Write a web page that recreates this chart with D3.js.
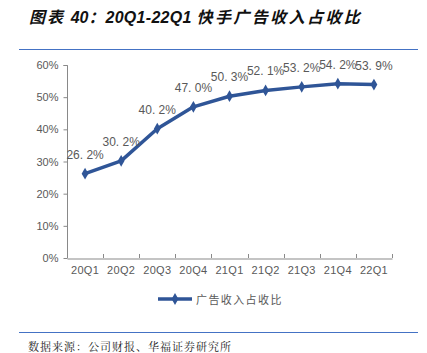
<!DOCTYPE html>
<html>
<head>
<meta charset="utf-8">
<script src="https://cdn.jsdelivr.net/npm/d3@7"></script>
<style>
  body { margin: 0; background: #fff; }
</style>
</head>
<body>
<div id="chart"></div>
<script>
// data
const quarters = ["20Q1","20Q2","20Q3","20Q4","21Q1","21Q2","21Q3","21Q4","22Q1"];
const adShare = [26.2, 30.2, 40.2, 47.0, 50.3, 52.1, 53.2, 54.2, 53.9];
const yTicks = [0, 10, 20, 30, 40, 50, 60];
const seriesName = "广告收入占收比";

const W = 427, H = 353;
const lineCol = "#2F5597", axisCol = "#898989", txtCol = "#595959";
const latin = "'Liberation Sans', Arial, sans-serif";
const cjk = "'Noto Sans CJK SC', sans-serif";

const svg = d3.select("#chart").append("svg")
  .attr("width", W).attr("height", H);

// title (CJK parts spaced out, latin parts tight)
const title = svg.append("text")
  .attr("x", 29).attr("y", 23)
  .style("font-size", "16px").style("font-weight", "bold").style("font-style", "italic")
  .attr("fill", "#111");
[["图表 ", cjk, 2], ["40", latin, 0], ["：", cjk, 1], ["20Q1-22Q1 ", latin, 0.3], ["快手广告收入占收比", cjk, 2.4]]
  .forEach(([t, f, ls]) => {
    title.append("tspan").style("font-family", f).style("letter-spacing", ls + "px").text(t);
  });

svg.append("line").attr("x1", 19).attr("x2", 418).attr("y1", 49.5).attr("y2", 49.5)
  .attr("stroke", "#4472C4").attr("stroke-width", 1);
svg.append("line").attr("x1", 19).attr("x2", 418).attr("y1", 332.5).attr("y2", 332.5)
  .attr("stroke", "#4472C4").attr("stroke-width", 1);

// scales
const x = d3.scaleBand().domain(quarters).range([67, 392]);
const y = d3.scaleLinear().domain([0, 60]).range([258, 65]);

// y axis
const yAx = svg.append("g").attr("transform", "translate(67.5,0)")
  .call(d3.axisLeft(y).tickValues(yTicks).tickSize(4).tickFormat(d => d + "%"));
yAx.select(".domain").attr("stroke", axisCol).attr("d", "M-4,65.5H0V258");
yAx.selectAll(".tick line").attr("stroke", axisCol);
yAx.selectAll(".tick text").attr("fill", txtCol).attr("x", -9)
  .style("font-size", "11px").style("font-family", latin);

// x axis
const xAx = svg.append("g").attr("transform", "translate(0,258.5)")
  .call(d3.axisBottom(x).tickSize(0).tickPadding(8));
xAx.select(".domain").attr("stroke", axisCol);
xAx.selectAll(".tick text").attr("fill", txtCol)
  .style("font-size", "11px").style("font-family", latin).style("letter-spacing", "0.3px");
// tick marks at band boundaries
svg.append("g").selectAll("line")
  .data(quarters)
  .enter().append("line")
  .attr("x1", d => Math.round(x(d) + x.bandwidth()) + 0.5)
  .attr("x2", d => Math.round(x(d) + x.bandwidth()) + 0.5)
  .attr("y1", 254).attr("y2", 258)
  .attr("stroke", axisCol);

// line
const cx = d => x(d) + x.bandwidth() / 2;
const line = d3.line().x((d, i) => cx(quarters[i])).y(d => y(d));
svg.append("path").datum(adShare)
  .attr("d", line)
  .attr("fill", "none").attr("stroke", lineCol).attr("stroke-width", 3.5)
  .attr("stroke-linejoin", "round");

const diamond = d3.symbol().type(d3.symbolDiamond).size(40);
svg.append("g").selectAll("path")
  .data(adShare)
  .enter().append("path")
  .attr("transform", (d, i) => `translate(${cx(quarters[i])},${y(d)})`)
  .attr("d", diamond)
  .attr("fill", lineCol);

// data labels
svg.append("g").selectAll("text")
  .data(adShare)
  .enter().append("text")
  .attr("x", (d, i) => cx(quarters[i]))
  .attr("y", d => y(d) - 15)
  .attr("text-anchor", "middle")
  .attr("fill", txtCol)
  .style("font-size", "12px").style("font-family", latin)
  .text(d => d.toFixed(1).replace(".", ". ") + "%");

// legend
svg.append("line").attr("x1", 158).attr("x2", 192).attr("y1", 299).attr("y2", 299)
  .attr("stroke", lineCol).attr("stroke-width", 3.5);
svg.append("path").attr("transform", "translate(175,299)").attr("d", diamond).attr("fill", lineCol);
svg.append("text").attr("x", 196).attr("y", 303.5)
  .attr("fill", txtCol)
  .style("font-size", "11px").style("font-family", cjk).style("letter-spacing", "1.4px")
  .text(seriesName);

// source
svg.append("text").attr("x", 28).attr("y", 351)
  .attr("fill", "#222")
  .style("font-size", "11px").style("font-family", "'Noto Serif CJK SC', 'Noto Sans CJK SC', serif")
  .style("letter-spacing", "1px")
  .text("数据来源：公司财报、华福证券研究所");
</script>
</body>
</html>
